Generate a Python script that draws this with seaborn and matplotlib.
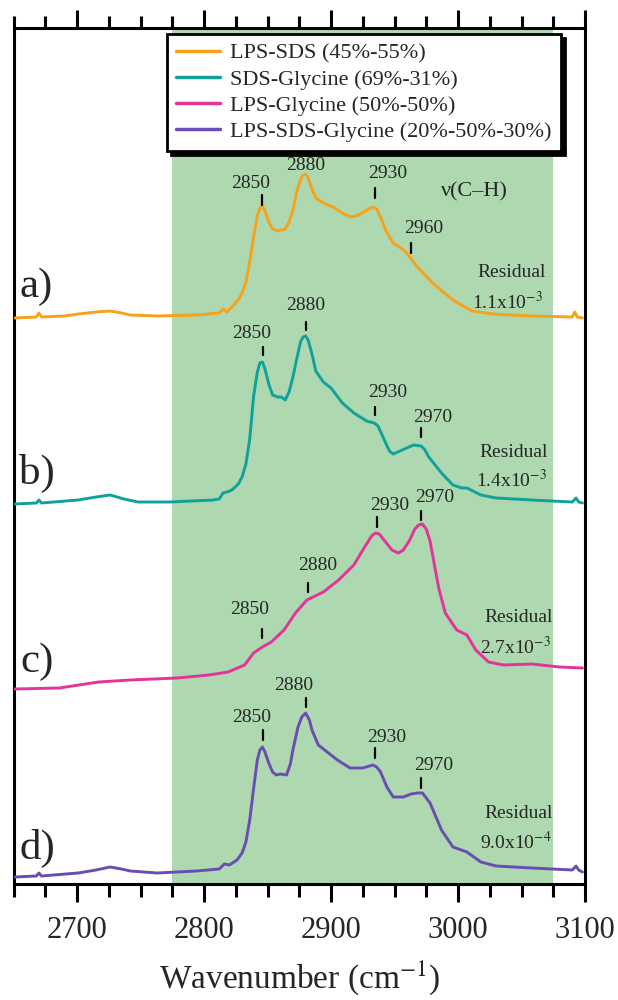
import matplotlib
matplotlib.use("Agg")
import matplotlib.pyplot as plt
import seaborn as sns
import pandas as pd
from matplotlib.ticker import MultipleLocator

# ---------------- data ----------------
series_names = ["LPS-SDS (45%-55%)", "SDS-Glycine (69%-31%)",
                "LPS-Glycine (50%-50%)", "LPS-SDS-Glycine (20%-50%-30%)"]
series_colors = ["#F7A21B", "#11A19B", "#E2349A", "#6A4DB2"]

wn_a = [2651, 2668, 2670, 2672, 2690, 2701, 2715, 2726, 2735, 2742, 2763, 2794, 2812, 2815,
        2818, 2822, 2827, 2830, 2833, 2836, 2839, 2842, 2844, 2846, 2848, 2851, 2854, 2858,
        2864, 2867, 2870, 2873, 2876, 2878, 2880, 2882, 2885, 2888, 2894, 2903, 2910, 2916,
        2922, 2928, 2933, 2936, 2940, 2943, 2949, 2955, 2959, 2968, 2980, 2996, 3011, 3027,
        3058, 3090, 3092, 3094, 3098]
y_a = [566, 567, 571, 567, 568, 570, 572, 573, 571, 569, 568, 569, 571, 575,
       572, 577, 584, 591, 602, 622, 647, 668, 676, 678, 673, 662, 655, 653,
       655, 662, 674, 692, 705, 709, 710, 706, 695, 686, 681, 676, 670, 667,
       669, 674, 677, 675, 664, 654, 641, 636, 632, 617, 601, 584, 573, 570,
       568, 567, 572, 567, 566]

wn_b = [2651, 2668, 2670, 2672, 2701, 2715, 2726, 2737, 2748, 2773, 2807, 2812, 2815, 2818,
        2822, 2827, 2830, 2833, 2836, 2839, 2842, 2844, 2846, 2848, 2851, 2854, 2858, 2861,
        2864, 2867, 2870, 2873, 2876, 2878, 2880, 2882, 2885, 2888, 2894, 2900, 2909, 2918,
        2928, 2934, 2937, 2942, 2946, 2949, 2956, 2965, 2971, 2974, 2977, 2987, 2996, 3003,
        3007, 3018, 3030, 3058, 3090, 3093, 3095, 3098]
y_b = [380, 381, 384, 381, 384, 387, 389, 385, 382, 382, 384, 385, 391, 392,
       394, 400, 407, 420, 445, 487, 512, 521, 522, 515, 500, 489, 487, 487,
       484, 492, 507, 525, 542, 547, 548, 544, 530, 513, 502, 496, 481, 471,
       463, 461, 458, 444, 433, 430, 434, 439, 438, 434, 427, 411, 399, 396,
       396, 389, 386, 384, 382, 386, 382, 381]

wn_c = [2651, 2686, 2717, 2742, 2779, 2804, 2819, 2832, 2839, 2846, 2853, 2863, 2872, 2881,
        2894, 2906, 2918, 2926, 2932, 2935, 2938, 2943, 2948, 2953, 2957, 2962, 2966, 2969,
        2972, 2975, 2978, 2981, 2985, 2990, 2999, 3007, 3014, 3024, 3036, 3058, 3080, 3098]
y_c = [195, 196, 202, 204, 206, 209, 212, 219, 231, 237, 242, 254, 271, 284,
       292, 304, 319, 336, 348, 351, 350, 342, 334, 331, 334, 344, 355, 359,
       360, 355, 343, 322, 295, 271, 254, 249, 234, 222, 219, 220, 217, 216]

wn_d = [2651, 2668, 2670, 2672, 2701, 2715, 2726, 2735, 2742, 2763, 2794, 2812, 2816, 2820,
        2826, 2830, 2833, 2836, 2839, 2842, 2844, 2846, 2848, 2851, 2854, 2857, 2860, 2865,
        2868, 2870, 2874, 2877, 2880, 2883, 2885, 2890, 2897, 2905, 2915, 2925, 2933, 2936,
        2939, 2944, 2949, 2957, 2963, 2968, 2972, 2975, 2978, 2987, 2996, 3007, 3018, 3030,
        3058, 3090, 3093, 3095, 3098]
y_d = [7, 8, 11, 8, 11, 14, 17, 15, 13, 11, 13, 15, 20, 19,
       24, 31, 42, 64, 95, 124, 134, 137, 132, 121, 112, 109, 110, 109,
       120, 134, 157, 167, 171, 164, 154, 139, 132, 124, 116, 116, 119, 117,
       112, 97, 87, 87, 90, 91, 91, 86, 81, 54, 37, 32, 22, 18,
       16, 14, 18, 14, 12]

panel_letters = ["a)", "b)", "c)", "d)"]
residual_texts = ["1.1x10$^{-3}$", "1.4x10$^{-3}$", "2.7x10$^{-3}$", "9.0x10$^{-4}$"]
peak_labels = [["2850", "2880", "2930", "2960"],
               ["2880", "2850", "2930", "2970"],
               ["2930", "2970", "2880", "2850"],
               ["2880", "2850", "2930", "2970"]]
xticks_major = [2700, 2800, 2900, 3000, 3100]

# ---------------- layout helpers (pixel -> data) ----------------
def X(px):
    return 2650 + (px - 13.5) / 1.27

def Y(py):
    return 884 - py

# peak annotation layout: (text_x, text_y, tick_x, tick_y0, tick_y1) in pixels
peak_layout = [
    [(251, 183, 262, 195, 205), (306, 165, None, None, None), (388, 173, 375, 188, 198), (424, 228, 411, 243, 253)],
    [(306, 305, 306, 322, 330), (252, 333, 263, 347, 355), (388, 392, 375, 407, 415), (433, 417, 421, 428, 437)],
    [(390, 505, 377, 517, 527), (435, 497, 421, 511, 520), (318, 565, 308, 583, 592), (250, 610, 262, 629, 638)],
    [(294, 685, 306, 698, 707), (252, 718, 263, 730, 740), (387, 737, 375, 748, 758), (434, 765, 421, 778, 788)],
]
residual_layout = [((512, 272), (508, 302)), ((514, 452), (512, 480)),
                   ((519, 618), (516, 647)), ((519, 813), (516, 842))]
letter_layout = [(36, 287), (37, 473), (37, 662), (37, 848)]

# ---------------- style ----------------
sns.set_theme(style="white")
plt.rcParams["font.family"] = ["Liberation Serif", "DejaVu Serif"]
plt.rcParams["mathtext.fontset"] = "stix"

fig, ax = plt.subplots(figsize=(6.18, 10), dpi=100)
fig.subplots_adjust(left=13.5 / 618, right=585 / 618, bottom=0.116, top=0.972)

ax.axvspan(2775, 3075, color="#ADD8B0", zorder=0, lw=0)

frames = [(wn_a, y_a), (wn_b, y_b), (wn_c, y_c), (wn_d, y_d)]
for (wn, yv), name, col in zip(frames, series_names, series_colors):
    df = pd.DataFrame({"wn": wn, "y": yv})
    sns.lineplot(data=df, x="wn", y="y", ax=ax, color=col, lw=2.1, label=name,
                 sort=False, estimator=None, zorder=3)

ax.set_xlim(2650, 3100)
ax.set_ylim(0, 856)
ax.set_yticks([])
ax.set_ylabel("")
ax.xaxis.set_major_locator(MultipleLocator(100))
ax.xaxis.set_minor_locator(MultipleLocator(25))
ax.set_xticks(xticks_major)
ax.set_xticklabels([str(t) for t in xticks_major])
ax.tick_params(axis="x", which="both", direction="out", top=True, bottom=True,
               labeltop=False, width=2.2, color="black")
ax.tick_params(axis="x", which="major", length=13, labelsize=22, pad=10)
ax.tick_params(axis="x", which="minor", length=9)
for s in ax.spines.values():
    s.set_color("black")
    s.set_linewidth(2.2)
ax.set_xlabel("Wavenumber (cm$^{-1}$)", fontsize=24, labelpad=10)

# annotations
for i in range(4):
    for lab, (tx, ty, kx, k0, k1) in zip(peak_labels[i], peak_layout[i]):
        ax.text(X(tx), Y(ty), lab, fontsize=14, ha="center", va="center", zorder=4)
        if kx is not None:
            ax.plot([X(kx), X(kx)], [Y(k0), Y(k1)], color="black", lw=1.6, zorder=4)
    (rx, ry), (vx, vy) = residual_layout[i]
    ax.text(X(rx), Y(ry), "Residual", fontsize=14, ha="center", va="center")
    ax.text(X(vx), Y(vy), residual_texts[i], fontsize=14, ha="center", va="center")
    lx, ly = letter_layout[i]
    ax.text(X(lx), Y(ly), panel_letters[i], fontsize=31, ha="center", va="center")

ax.text(X(474), Y(192), "ν(C–H)", fontsize=16, ha="center", va="center")

leg = ax.legend(loc="upper left", bbox_to_anchor=((167 - 13.5) / 571.5, (884 - 34) / 856),
                borderaxespad=0, fontsize=16, frameon=True, fancybox=False,
                shadow={"color": "black", "alpha": 1.0, "ox": 3, "oy": -3},
                handlelength=2.0, labelspacing=0.25, borderpad=0.4, handletextpad=0.45)
leg.get_frame().set_edgecolor("black")
leg.get_frame().set_linewidth(2.0)
leg.get_frame().set_alpha(1.0)
for line in leg.get_lines():
    line.set_linewidth(2.5)

fig.savefig("out.png", dpi=100)
